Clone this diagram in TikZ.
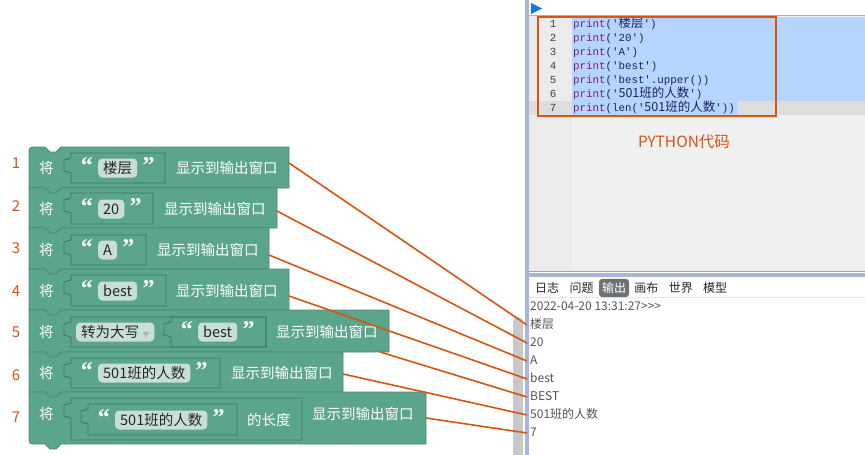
\documentclass[tikz,border=0pt]{standalone}
\usepackage{fontspec}
\setmainfont{Noto Sans CJK SC}
\setmonofont{Liberation Mono}
\newfontfamily\cjk{Noto Sans CJK SC}
\newfontfamily\qfont{Liberation Serif Bold}
\newfontfamily\symfont{DejaVu Sans}
\usetikzlibrary{positioning}

\definecolor{blockgreen}{RGB}{91,165,140}
\definecolor{blockedge}{RGB}{74,138,116}
\definecolor{slotedge}{RGB}{58,118,98}
\definecolor{fieldbg}{RGB}{200,223,214}
\definecolor{linkorange}{RGB}{214,84,20}
\definecolor{barblue}{RGB}{168,183,217}
\definecolor{codebg}{RGB}{240,240,240}
\definecolor{gutterbg}{RGB}{235,235,235}
\definecolor{selblue}{RGB}{181,213,254}
\definecolor{rowgray}{RGB}{221,221,221}
\definecolor{kwpurple}{RGB}{120,30,130}
\definecolor{strnavy}{RGB}{30,30,100}
\definecolor{playblue}{RGB}{20,120,230}
\definecolor{outgray}{RGB}{85,85,85}
\definecolor{tabdark}{RGB}{107,113,119}
\definecolor{scrollgray}{RGB}{200,200,200}

% one stacked block: top, bottom, right, top-left round, bottom-left round
\newcommand\gblock[5]{%
  \filldraw[block] (29,{#1+#4}) .. controls (29,#1) .. ({29+#4},#1) -- (45,#1) -- (50,{#1+5}) -- (56,{#1+5}) -- (61,#1)
    -- (#3,#1) -- (#3,#2) -- (61,#2) -- (56,{#2+5}) -- (50,{#2+5}) -- (45,#2)
    -- ({29+#5},#2) .. controls (29,#2) .. (29,{#2-#5}) -- cycle;}
% input socket: left, right, top, bottom
\newcommand\inslot[4]{%
  \draw[slot] (#1,{#3+5}) -- (#1,#3) -- (#2,#3) -- (#2,#4) -- (#1,#4) -- (#1,{#3+20})
    -- ({#1-7},{#3+18}) -- ({#1-7},{#3+7}) -- cycle;}
\newcommand\cc[1]{{\cjk\fontsize{12.5}{12}\selectfont#1}}
\newcommand\kw[1]{\textcolor{kwpurple}{#1}}

\begin{document}
\begin{tikzpicture}[x=1pt,y=-1pt,
    block/.style={fill=blockgreen,draw=blockedge,line width=0.8pt},
    slot/.style={draw=slotedge,line width=0.8pt},
    fieldbox/.style={fill=fieldbg,rounded corners=4pt,inner xsep=5pt,inner ysep=0pt,
      minimum height=19pt,text height=11.5pt,text depth=0.5pt,text=black!85,
      font=\fontsize{14.5}{16}\selectfont,anchor=west},
    btext/.style={text=white,font=\fontsize{14.5}{16}\selectfont,inner sep=0pt,
      text height=11.5pt,text depth=0.5pt,anchor=west},
    quo/.style={text=white,font=\qfont\fontsize{24}{24}\selectfont,inner sep=0pt,yshift=2pt},
    num/.style={text=linkorange,font=\fontsize{15}{16}\selectfont,inner sep=0pt},
    link/.style={draw=linkorange,line width=1.6pt},
    codeln/.style={font=\ttfamily\fontsize{10.8}{12}\selectfont,anchor=base west,inner sep=0pt,text=strnavy},
    lnum/.style={font=\ttfamily\fontsize{10.8}{12}\selectfont,anchor=base,text=black!75,inner sep=0pt},
    outtxt/.style={font=\fontsize{12}{14}\selectfont,text=outgray,anchor=west,inner xsep=3pt,
      inner ysep=0pt,text height=9.5pt,text depth=2.5pt},
    tab/.style={font=\fontsize{12}{14}\selectfont,text=black!85,anchor=west,inner sep=0pt}]
\useasboundingbox (0,0) rectangle (865,455);
\fill[white] (0,0) rectangle (865,455);

% editor and output panel
\fill[playblue] (531,3) -- (542,8.5) -- (531,14) -- cycle;
\fill[gutterbg] (529,15) rectangle (572,271);
\fill[codebg] (572,15) rectangle (865,271);
\draw[black!30,line width=0.8pt] (529,15) -- (865,15);
\fill[selblue] (572,17) rectangle (865,101);
\fill[rowgray] (529,101) rectangle (865,115);
\fill[selblue] (572,101) rectangle (738,115);
\draw[black!35,line width=0.8pt] (529,271) -- (865,271);
\fill[barblue] (529,273) rectangle (865,277);
\fill[barblue] (525,0) rectangle (529,455);
\draw[black!10] (529,297.5) -- (865,297.5);
\fill[scrollgray,rounded corners=5pt] (513,317) rectangle (523,465);

\foreach \k in {1,...,7}
  \node[lnum] (ln\k) at (553,{27.8+14*(\k-1)}) {\k};
\node[codeln] (c1) at (573,27.8) {\kw{print}('\cc{楼层}')};
\node[codeln] (c2) at (573,41.8) {\kw{print}('20')};
\node[codeln] (c3) at (573,55.8) {\kw{print}('A')};
\node[codeln] (c4) at (573,69.8) {\kw{print}('best')};
\node[codeln] (c5) at (573,83.8) {\kw{print}('best'.upper())};
\node[codeln] (c6) at (573,97.8) {\kw{print}('\cc{501班的人数}')};
\node[codeln] (c7) at (573,111.8) {\kw{print}(len('\cc{501班的人数}'))};
\draw[linkorange,line width=2pt] (538,17) rectangle (776,116);
\node[text=linkorange,font=\fontsize{15.5}{17}\selectfont] (pylabel) at (684,142) {PYTHON代码};

\node[tab] (tb1) at (535,288) {日志};
\node[tab,right=10pt of tb1] (tb2) {问题};
\node[tab,right=5pt of tb2,fill=tabdark,text=white,rounded corners=3pt,inner xsep=3pt,inner ysep=3.5pt] (tb3) {输出};
\node[tab,right=5pt of tb3] (tb4) {画布};
\node[tab,right=10pt of tb4] (tb5) {世界};
\node[tab,right=10pt of tb5] (tb6) {模型};

\node[outtxt] (stamp) at (527,307) {2022-04-20 13:31:27{>}{>}{>}};
\foreach \txt [count=\k] in {楼层,20,A,best,BEST,501班的人数,7}
  \node[outtxt] (o\k) at (527,{307+18*\k}) {\txt};

% step numbers
\foreach \y [count=\k] in {163,206,248,291,332,375,417}
  \node[num] (n\k) at (16,\y) {\k};

% block 1
\gblock{147}{188}{289}{8}{0}
\inslot{71}{165}{153}{183}
\node[btext] (j1) at (39,168) {将};
\node[fieldbox] (f1) at (98,168) {楼层};
\node[quo,left=5pt of f1] (qa1) {“};
\node[quo,right=5pt of f1] (qb1) {”};
\node[btext] (t1) at (176,168) {显示到输出窗口};
\coordinate (e1) at (289,163);

% block 2
\gblock{188}{228}{277}{0}{0}
\inslot{71}{153}{193}{224}
\node[btext] (j2) at (39,209) {将};
\node[fieldbox] (f2) at (98,209) {20};
\node[quo,left=5pt of f2] (qa2) {“};
\node[quo,right=5pt of f2] (qb2) {”};
\node[btext] (t2) at (164,209) {显示到输出窗口};
\coordinate (e2) at (277,211);

% block 3
\gblock{228}{269}{269}{0}{0}
\inslot{71}{146}{235}{265}
\node[btext] (j3) at (39,250) {将};
\node[fieldbox] (f3) at (98,250) {A};
\node[quo,left=5pt of f3] (qa3) {“};
\node[quo,right=5pt of f3] (qb3) {”};
\node[btext] (t3) at (157,250) {显示到输出窗口};
\coordinate (e3) at (269,255);

% block 4
\gblock{269}{310}{289}{0}{0}
\inslot{71}{166}{275}{306}
\node[btext] (j4) at (39,291) {将};
\node[fieldbox] (f4) at (98,291) {best};
\node[quo,left=5pt of f4] (qa4) {“};
\node[quo,right=5pt of f4] (qb4) {”};
\node[btext] (t4) at (176,291) {显示到输出窗口};
\coordinate (e4) at (289,296);

% block 5
\gblock{310}{352}{389}{0}{0}
\inslot{71}{266}{317}{347}
\inslot{171}{266}{317}{347}
\node[btext] (j5) at (39,332) {将};
\node[fieldbox] (d5) at (76,332) {转为大写\hspace{4pt}{\symfont\fontsize{8}{8}\selectfont\color{black!30}▼}};
\node[fieldbox] (f5) at (198,332) {best};
\node[quo,left=5pt of f5] (qa5) {“};
\node[quo,right=5pt of f5] (qb5) {”};
\node[btext] (t5) at (276,332) {显示到输出窗口};
\coordinate (e5) at (380,352);

% block 6
\gblock{352}{392}{343}{0}{0}
\inslot{71}{220}{358}{388}
\node[btext] (j6) at (39,373) {将};
\node[fieldbox] (f6) at (98,373) {501班的人数};
\node[quo,left=5pt of f6] (qa6) {“};
\node[quo,right=5pt of f6] (qb6) {”};
\node[btext] (t6) at (231,373) {显示到输出窗口};
\coordinate (e6) at (343,374);

% block 7
\gblock{392}{444}{426}{0}{8}
\inslot{71}{302}{398}{440}
\inslot{88}{237}{404}{435}
\node[btext] (j7) at (39,414) {将};
\node[fieldbox] (f7) at (115,420) {501班的人数};
\node[quo,left=5pt of f7] (qa7) {“};
\node[quo,right=5pt of f7] (qb7) {”};
\node[btext] (l7) at (247,420) {的长度};
\node[btext] (t7) at (312,414) {显示到输出窗口};
\coordinate (e7) at (426,418);

% links to output lines
\foreach \k in {1,...,7}
  \draw[link] (e\k) -- (o\k.west);
\end{tikzpicture}
\end{document}
